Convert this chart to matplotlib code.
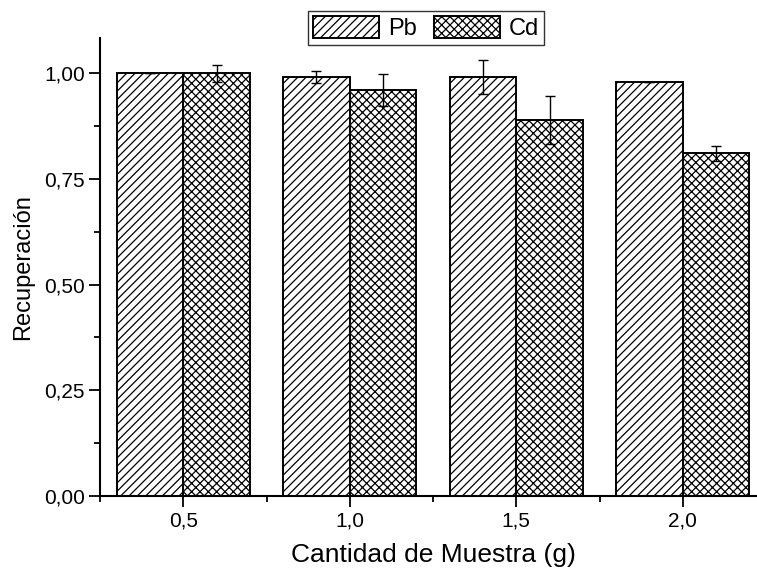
import matplotlib
matplotlib.use("Agg")
import matplotlib.pyplot as plt
from matplotlib.ticker import FixedLocator, MultipleLocator, FuncFormatter

# data
muestra = [0.5, 1.0, 1.5, 2.0]
pb_rec = [1.00, 0.99, 0.99, 0.98]
pb_err = [0.0, 0.014, 0.04, 0.0]
cd_rec = [1.00, 0.96, 0.89, 0.81]
cd_err = [0.02, 0.038, 0.057, 0.018]
series = ["Pb", "Cd"]
x_ticks = [0.5, 1.0, 1.5, 2.0]
y_ticks = [0.0, 0.25, 0.50, 0.75, 1.00]

plt.rcParams["font.family"] = ["Liberation Sans", "DejaVu Sans"]
plt.rcParams["hatch.linewidth"] = 0.9

fig = plt.figure(figsize=(7.57, 5.68), dpi=100)
ax = fig.add_axes([100 / 757, 72 / 568, 666 / 757, 458 / 568])

width = 0.2
pb_x = [m - width / 2 for m in muestra]
cd_x = [m + width / 2 for m in muestra]
err_kw = dict(ecolor="black", elinewidth=1.0, capsize=3.5, capthick=1.0)

bars_pb = ax.bar(pb_x, pb_rec, width, yerr=pb_err, color="white",
                 edgecolor="black", linewidth=1.4, hatch="////",
                 label=series[0], error_kw=err_kw)
bars_cd = ax.bar(cd_x, cd_rec, width, yerr=cd_err, color="white",
                 edgecolor="black", linewidth=1.4, hatch="xxxx",
                 label=series[1], error_kw=err_kw)

ax.set_xlim(0.25, 2.25)
ax.set_ylim(0, 1.083)

ax.xaxis.set_major_locator(FixedLocator(x_ticks))
ax.xaxis.set_minor_locator(MultipleLocator(0.25))
ax.yaxis.set_major_locator(FixedLocator(y_ticks))
ax.yaxis.set_minor_locator(MultipleLocator(0.125))

comma = lambda fmt: FuncFormatter(lambda v, _: format(v, fmt).replace(".", ","))
ax.xaxis.set_major_formatter(comma(".1f"))
ax.yaxis.set_major_formatter(comma(".2f"))

for side in ("top", "right"):
    ax.spines[side].set_visible(False)
for side in ("left", "bottom"):
    ax.spines[side].set_linewidth(1.5)

ax.tick_params(which="major", direction="out", length=8, width=1.3,
               labelsize=15, pad=3)
ax.tick_params(which="minor", direction="out", length=4, width=1.3)

ax.set_xlabel("Cantidad de Muestra (g)", fontsize=19, labelpad=9)
ax.set_ylabel("Recuperación", fontsize=17, labelpad=7)

leg = fig.legend(handles=[bars_pb, bars_cd], loc="center",
                 bbox_to_anchor=(426 / 757, 1 - 28 / 568), ncol=2,
                 fontsize=17, frameon=True, fancybox=False, edgecolor="black",
                 handlelength=2.8, handleheight=1.1, handletextpad=0.4,
                 columnspacing=0.7, borderpad=0.2, borderaxespad=0)
leg.get_frame().set_linewidth(1.0)

fig.savefig("out.png", dpi=100)
